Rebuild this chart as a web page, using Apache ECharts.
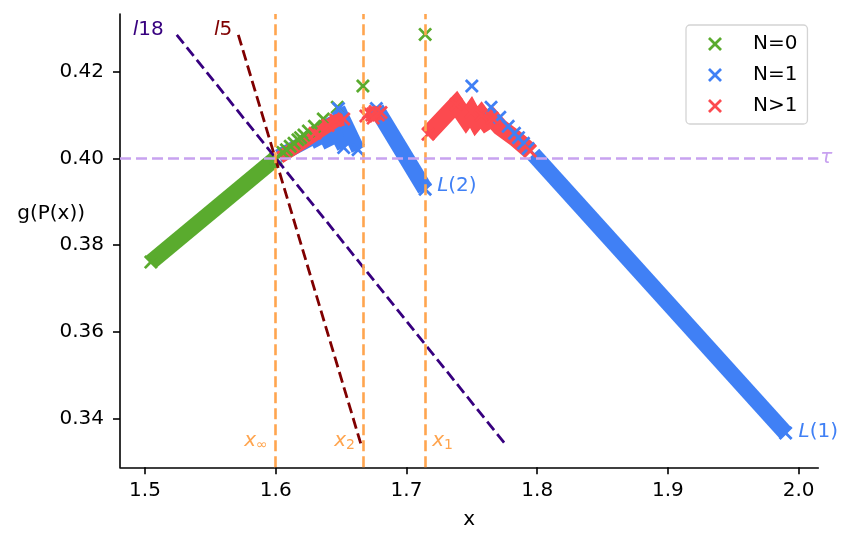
<!DOCTYPE html>
<html>
<head>
<meta charset="utf-8">
<script src="https://cdn.jsdelivr.net/npm/echarts@6/dist/echarts.min.js"></script>
<style>
html, body { margin: 0; padding: 0; background: #fff; }
#chart { width: 856px; height: 547px; }
</style>
</head>
<body>
<div id="chart"></div>
<script>
// tick labels
const xTicks = [1.5, 1.6, 1.7, 1.8, 1.9, 2.0];
const yTicks = [0.34, 0.36, 0.38, 0.40, 0.42];

// N=0 : dense run up to x_inf, then isolated points
const greenRun = [[1.5045, 0.3761], [1.6000, 0.4000]];
const greenPoints = [
  [1.5045, 0.3761], [1.6000, 0.4000], [1.6055, 0.4014], [1.6082, 0.4020],
  [1.6111, 0.4028], [1.6140, 0.4035], [1.6170, 0.4043], [1.6190, 0.4048],
  [1.6216, 0.4054], [1.6250, 0.4063], [1.6296, 0.4074], [1.6364, 0.4091],
  [1.6471, 0.4118], [1.6667, 0.4167], [1.7143, 0.4286]
];

// N=1 : the two long runs L(1), L(2), small teeth near x_inf, isolated points
const blueL1 = [[1.7970, 0.4010], [1.9900, 0.3367]];
const blueL2 = [[1.6770, 0.4115], [1.7143, 0.3929]];
const blueTeeth = [
  [[1.6020, 0.4005], [1.6300, 0.4050]],
  [[1.6215, 0.4058], [1.6270, 0.4032]],
  [[1.6270, 0.4070], [1.6340, 0.4030]],
  [[1.6330, 0.4082], [1.6420, 0.4028]],
  [[1.6400, 0.4095], [1.6520, 0.4025]],
  [[1.6480, 0.4115], [1.6630, 0.4020]]
];
const bluePoints = [
  [1.7500, 0.4167], [1.7647, 0.4118], [1.7714, 0.4095], [1.7778, 0.4074],
  [1.7826, 0.4058], [1.7857, 0.4048], [1.7895, 0.4035], [1.7931, 0.4023],
  [1.9900, 0.3367], [1.6770, 0.4115], [1.7143, 0.3929], [1.6480, 0.4115],
  [1.6630, 0.4020], [1.6520, 0.4025]
];

// N>1
const redZigzag = [
  [1.7165, 0.4056], [1.7380, 0.4125], [1.7456, 0.4091], [1.7494, 0.4107],
  [1.7532, 0.4086], [1.7571, 0.4100], [1.7609, 0.4084], [1.7655, 0.4093],
  [1.7716, 0.4072], [1.7831, 0.4047], [1.7946, 0.4017]
];
const redChain = [[1.6030, 0.4002], [1.6200, 0.4035], [1.6350, 0.4065], [1.6460, 0.4087], [1.6520, 0.4090]];
const redBlob = [[1.6700, 0.4102], [1.6800, 0.4104]];
const redPoints = [
  [1.6690, 0.4098], [1.6710, 0.4106], [1.6735, 0.4100], [1.6760, 0.4108],
  [1.6785, 0.4100], [1.6805, 0.4106], [1.6745, 0.4093],
  [1.6460, 0.4088], [1.6520, 0.4091], [1.6400, 0.4076], [1.6300, 0.4058],
  [1.7165, 0.4056], [1.7380, 0.4125], [1.7494, 0.4107], [1.7571, 0.4100], [1.7655, 0.4093],
  [1.7946, 0.4017]
];

// guide lines
const l18Line = [[1.5243, 0.4285], [1.7754, 0.3342]];
const l5Line = [[1.5714, 0.4285], [1.6650, 0.3343]];
const xMarks = [1.6, 1.6667, 1.7143]; // x_inf, x_2, x_1
const tau = 0.4;

const FONT = "'DejaVu Sans', sans-serif";
const GREEN = '#5aab2e';
const BLUE = '#4080f5';
const RED = '#fc4a4f';
const ORANGE = '#ffa54f';
const PURPLE = '#c8a2f0';
const INDIGO = '#37007f';
const MAROON = '#800000';
const X = 'path://M0,14L14,0L50,36L86,0L100,14L64,50L100,86L86,100L50,64L14,100L0,86L36,50Z';

function band(data, color, width) {
  return {
    type: 'line', data, symbol: 'none', silent: true, z: 2,
    emphasis: { disabled: true },
    lineStyle: { color, width, cap: 'butt', join: 'miter' }
  };
}

function crosses(name, data, color) {
  return {
    type: 'scatter', name, data, symbol: X, symbolSize: 14, silent: true, z: 2,
    emphasis: { disabled: true },
    itemStyle: { color, opacity: 1 }
  };
}

function guide(data, color) {
  return {
    type: 'line', data, symbol: 'none', silent: true, z: 3,
    lineStyle: { color, width: 2.8, type: [11, 5] }
  };
}

const series = [
  {
    type: 'line', data: [], silent: true, z: 1,
    markLine: {
      silent: true, symbol: ['none', 'none'], animation: false, precision: 5,
      label: { show: false },
      lineStyle: { color: ORANGE, width: 2.6, type: [11, 5] },
      data: xMarks.map(v => ({ xAxis: v }))
    }
  },
  {
    type: 'line', data: [], silent: true, z: 1,
    markLine: {
      silent: true, symbol: ['none', 'none'], animation: false, precision: 5,
      label: { show: false },
      lineStyle: { color: PURPLE, width: 2.5, type: [11, 5] },
      data: [{ yAxis: tau }]
    }
  },
  band(greenRun, GREEN, 16),
  crosses('N=0', greenPoints, GREEN),
  band(blueL1, BLUE, 16),
  band(blueL2, BLUE, 16)
];
blueTeeth.forEach(t => series.push(band(t, BLUE, 14)));
series.push(crosses('N=1', bluePoints, BLUE));
series.push(band(redZigzag, RED, 17));
series.push(band(redChain, RED, 13));
series.push(band(redBlob, RED, 14));
series.push(crosses('N>1', redPoints, RED));
series.push(guide(l18Line, INDIGO));
series.push(guide(l5Line, MAROON));

const option = {
  animation: false,
  backgroundColor: '#fff',
  textStyle: { fontFamily: FONT },
  grid: { left: 120, top: 14, width: 698.3, height: 453.3, containLabel: false, outerBoundsMode: 'none' },
  xAxis: {
    type: 'value', min: 1.4809, max: 2.015,
    splitLine: { show: false },
    axisLine: { onZero: false, lineStyle: { color: '#000', width: 1.6 } },
    axisTick: { customValues: xTicks, length: 7, lineStyle: { color: '#000', width: 1.6 } },
    axisLabel: {
      customValues: xTicks, margin: 13, color: '#000', fontSize: 20, fontFamily: FONT,
      formatter: v => v.toFixed(1)
    },
    name: 'x', nameLocation: 'middle', nameGap: 42,
    nameTextStyle: { color: '#000', fontSize: 20, fontFamily: FONT }
  },
  yAxis: {
    type: 'value', min: 0.3288, max: 0.4333,
    splitLine: { show: false },
    axisLine: { onZero: false, lineStyle: { color: '#000', width: 1.6 } },
    axisTick: { customValues: yTicks, length: 7, lineStyle: { color: '#000', width: 1.6 } },
    axisLabel: {
      customValues: yTicks, margin: 16, color: '#000', fontSize: 20, fontFamily: FONT,
      formatter: v => v.toFixed(2)
    }
  },
  legend: {
    left: 686, top: 25, orient: 'vertical',
    padding: [9, 10, 8, 22],
    itemWidth: 14, itemHeight: 14, itemGap: 11,
    backgroundColor: 'rgba(255,255,255,0.85)',
    borderColor: '#d4d4d4', borderWidth: 1.3, borderRadius: 4,
    textStyle: { color: '#000', fontSize: 20, fontFamily: FONT, lineHeight: 20, padding: [0, 0, 0, 26] },
    data: [
      { name: 'N=0', icon: X },
      { name: 'N=1', icon: X },
      { name: 'N>1', icon: X }
    ]
  },
  series
};

const chart = echarts.init(document.getElementById('chart'));
chart.setOption(option);

function px(p) {
  return chart.convertToPixel({ gridIndex: 0 }, p);
}

function richStyles(color) {
  return {
    i: { fontStyle: 'italic', fontSize: 20, fontFamily: FONT, fill: color, lineHeight: 24 },
    n: { fontSize: 20, fontFamily: FONT, fill: color, lineHeight: 24 },
    s: { fontSize: 14, fontFamily: FONT, fill: color, lineHeight: 14, verticalAlign: 'bottom' }
  };
}

function note(anchor, dx, dy, text, color, align) {
  const p = px(anchor);
  return {
    type: 'text', x: p[0] + dx, y: p[1] + dy, z: 100, silent: true,
    style: { text, fill: color, align, verticalAlign: 'middle', rich: richStyles(color) }
  };
}

const yMin = 0.3288;
chart.setOption({
  graphic: [
    note(l18Line[0], -13, -5, '{i|l}{n|18}', INDIGO, 'right'),
    note(l5Line[0], -6, -5, '{i|l}{n|5}', MAROON, 'right'),
    note(blueL2[1], 12, -3, '{i|L}{n|(2)}', BLUE, 'left'),
    note(blueL1[1], 13, -1, '{i|L}{n|(1)}', BLUE, 'left'),
    note([2.015, tau], 2, -1, '{i|τ}', PURPLE, 'left'),
    note([xMarks[0], yMin], -8, -27, '{i|x}{s|∞}', ORANGE, 'right'),
    note([xMarks[1], yMin], -8, -27, '{i|x}{s|2}', ORANGE, 'right'),
    note([xMarks[2], yMin], 7, -27, '{i|x}{s|1}', ORANGE, 'left'),
    {
      type: 'text', x: 85, y: 214, z: 100, silent: true,
      style: { text: 'g(P(x))', fill: '#000', align: 'right', verticalAlign: 'middle', fontSize: 20, fontFamily: FONT }
    }
  ]
});
</script>
</body>
</html>
